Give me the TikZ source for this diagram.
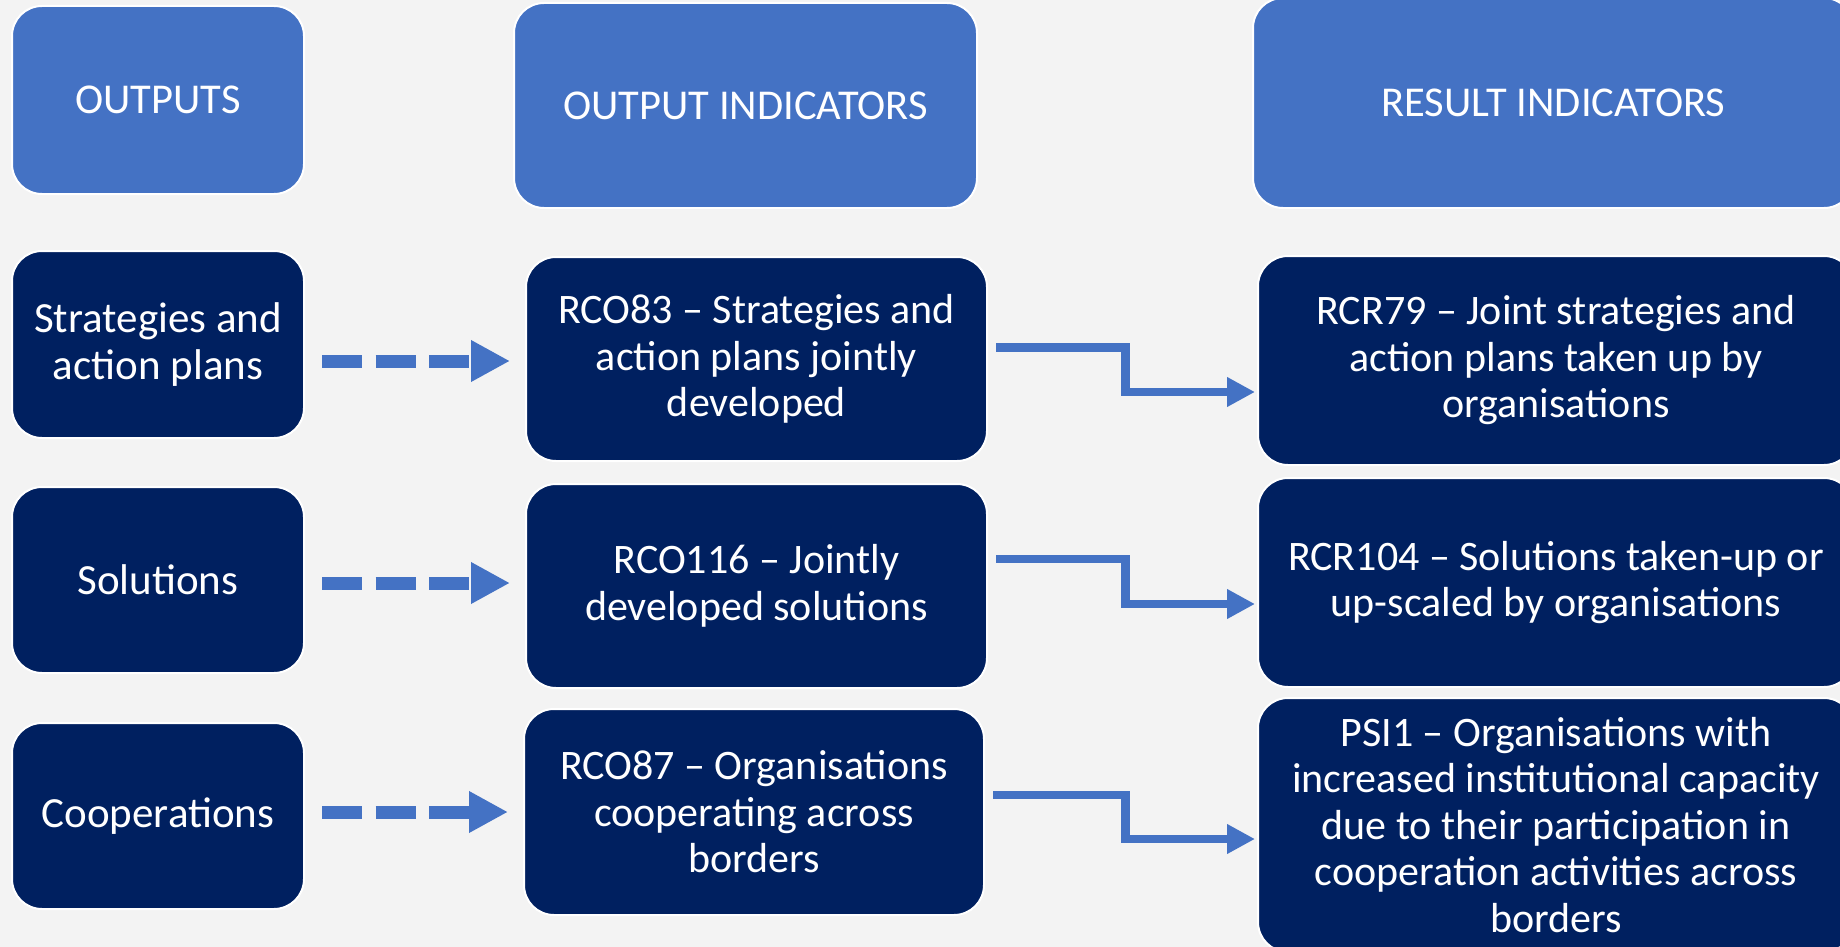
\documentclass[tikz,border=0pt]{standalone}
\usepackage{fontspec}
\setmainfont{Carlito}
\usetikzlibrary{arrows.meta}
\definecolor{bgc}{HTML}{F3F3F3}
\definecolor{headc}{HTML}{4472C4}
\definecolor{darkc}{HTML}{002060}
\definecolor{arrc}{HTML}{4472C4}
\tikzset{
  headbox/.style={draw=white, line width=2pt, fill=headc, rounded corners=30pt, inner sep=0pt,
    text=white, align=center, font=\fontsize{42.5}{50}\selectfont},
  darkbox/.style={draw=white, line width=2pt, fill=darkc, rounded corners=30pt, inner sep=0pt,
    text=white, align=center, font=\fontsize{42}{46.5}\selectfont},
  leftbox/.style={darkbox, font=\fontsize{43}{47}\selectfont},
  dasharrow/.style={draw=arrc, line width=13pt, dash pattern=on 40pt off 13.5pt,
    -{Triangle[length=39pt,width=39pt]}, shorten <=17pt, shorten >=15pt},
  elbowarrow/.style={draw=arrc, line width=8.5pt, miter limit=10,
    -{Triangle[length=28pt,width=28pt]}, shorten <=8pt, shorten >=2pt}
}
\begin{document}
\begin{tikzpicture}[x=1pt,y=-1pt]
\fill[bgc] (0,0) rectangle (1840,947);
\useasboundingbox (0,0) rectangle (1840,947);
\clip (0,0) rectangle (1840,947);

% headers
\node[headbox, minimum width=292pt, minimum height=188pt] (H1) at (158,100) {OUTPUTS};
\node[headbox, minimum width=463pt, minimum height=205pt] (H2) at (745.5,105.5) {OUTPUT INDICATORS};
\node[headbox, minimum width=601pt, minimum height=210pt] (H3) at (1553.5,103) {RESULT INDICATORS};

% left column
\node[leftbox, minimum width=292pt, minimum height=187pt] (L1) at (158,344.5) {Strategies and\\action plans};
\node[leftbox, minimum width=292pt, minimum height=186pt] (L2) at (158,580) {Solutions};
\node[leftbox, minimum width=292pt, minimum height=186pt] (L3) at (158,816) {Cooperations};

% middle column
\node[darkbox, minimum width=461pt, minimum height=204pt] (M1) at (756.5,359) {RCO83 -- Strategies and\\action plans jointly\\developed};
\node[darkbox, minimum width=461pt, minimum height=204pt] (M2) at (756.5,586) {RCO116 -- Jointly\\developed solutions};
\node[darkbox, minimum width=460pt, minimum height=206pt] (M3) at (754,812) {RCO87 -- Organisations\\cooperating across\\borders};

% right column
\node[darkbox, minimum width=596pt, minimum height=209pt] (R1) at (1556,360.5) {RCR79 -- Joint strategies and\\action plans taken up by\\organisations};
\node[darkbox, minimum width=596pt, minimum height=209pt] (R2) at (1556,582.5) {RCR104 -- Solutions taken-up or\\up-scaled by organisations};
\node[darkbox, minimum width=596pt, minimum height=254pt] (R3) at (1556,825) {PSI1 -- Organisations with\\increased institutional capacity\\due to their participation in\\cooperation activities across\\borders};

% helper coordinates for heights
\coordinate (d1) at (0,361);
\coordinate (d2) at (0,583);
\coordinate (d3) at (0,812);
\coordinate (e1a) at (1125.5,347.5);
\coordinate (e1b) at (1125.5,392);
\coordinate (e2a) at (1125.5,559);
\coordinate (e2b) at (1125.5,604);
\coordinate (e3a) at (1125.5,795);
\coordinate (e3b) at (1125.5,839);

% dashed arrows
\draw[dasharrow] (L1.east |- d1) -- (M1.west |- d1);
\draw[dasharrow] (L2.east |- d2) -- (M2.west |- d2);
\draw[dasharrow] (L3.east |- d3) -- (M3.west |- d3);

% elbow arrows
\draw[elbowarrow] (M1.east |- e1a) -- (e1a) -- (e1b) -- (R1.west |- e1b);
\draw[elbowarrow] (M2.east |- e2a) -- (e2a) -- (e2b) -- (R2.west |- e2b);
\draw[elbowarrow] (M3.east |- e3a) -- (e3a) -- (e3b) -- (R3.west |- e3b);
\end{tikzpicture}
\end{document}
